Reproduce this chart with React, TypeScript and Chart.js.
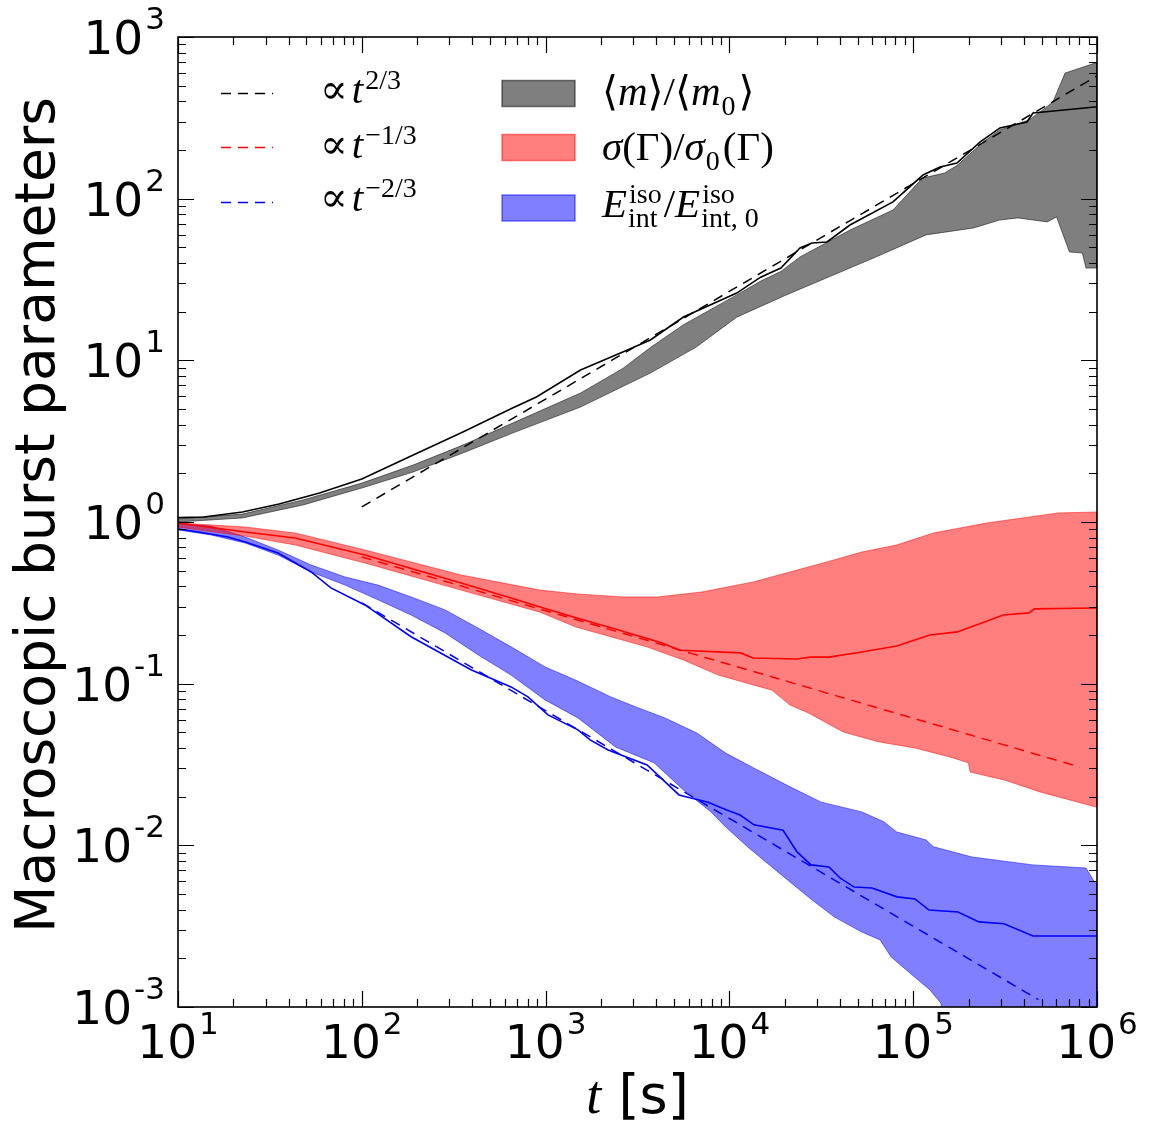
import React, { useEffect, useRef } from 'react';
import { Chart, registerables } from 'chart.js';

Chart.register(...registerables);

type Pt = [number, number];

// <m>/<m0>  (grey band + median)
const mUpper: Pt[] = [
  [10, 1.045], [22.4, 1.12], [47.9, 1.37], [100, 1.74], [190, 2.25], [355, 2.99], [661, 4.09],
  [1549, 6.28], [2630, 8.91], [3715, 12.0], [5623, 16.6], [10965, 25.4], [14791, 30.9],
  [19055, 35.5], [24210, 43.6], [45290, 64.0], [77620, 85.1], [112200, 134], [147900, 144],
  [173800, 161], [239900, 224], [295100, 266], [426600, 307], [489800, 344], [575400, 396],
  [669900, 598], [977200, 690], [1000000, 690],
];
const mLower: Pt[] = [
  [10, 1.0], [22.4, 1.059], [47.9, 1.274], [100, 1.622], [190, 2.037], [355, 2.673], [661, 3.548],
  [1549, 5.14], [3715, 8.34], [6607, 12.08], [10965, 18.5], [19953, 25.1], [33900, 32.4],
  [63100, 43.7], [117500, 59.7], [213800, 65.9], [295100, 73.8], [371500, 76.0], [537000, 71.8],
  [602600, 77.1], [707900, 46.8], [831800, 46.1], [871000, 37.2], [1000000, 37.2],
];
const mMedian: Pt[] = [
  [10, 1.064], [13.8, 1.074], [22.4, 1.153], [35.5, 1.291], [58.9, 1.51], [100, 1.845],
  [190.5, 2.594], [354.8, 3.606], [660.7, 5.07], [891, 5.93], [1549, 8.71], [2630, 11.25],
  [3715, 13.37], [5623, 18.54], [10965, 26.06], [14791, 32.7], [19055, 37.2], [24210, 49.5],
  [28120, 53.2], [33960, 54.0], [45290, 68.7], [77620, 95.5], [113000, 140], [140000, 157],
  [173000, 166], [230700, 224], [296500, 274], [415900, 298], [448700, 339], [975000, 369],
  [1000000, 370],
];

// sigma(Gamma)/sigma0(Gamma)  (red band + median)
const sUpper: Pt[] = [
  [10, 0.986], [23.2, 0.931], [43.4, 0.855], [104, 0.671], [347, 0.47], [933, 0.379],
  [1479, 0.359], [2630, 0.344], [4074, 0.344], [7079, 0.369], [13490, 0.426], [21380, 0.491],
  [33880, 0.566], [52480, 0.652], [81280, 0.721], [128800, 0.855], [251200, 0.986],
  [616600, 1.138], [1000000, 1.153],
];
const sLower: Pt[] = [
  [10, 0.931], [23.2, 0.818], [43.4, 0.721], [104, 0.557], [347, 0.379], [933, 0.277],
  [1462, 0.224], [2265, 0.195], [3548, 0.169], [5623, 0.14], [8710, 0.113], [13490, 0.0982],
  [16980, 0.0914], [21380, 0.0738], [26920, 0.0659], [41690, 0.0502], [64570, 0.0437],
  [102300, 0.04], [158500, 0.0352], [199500, 0.0324], [204200, 0.0284], [316200, 0.0253],
  [489800, 0.0214], [977000, 0.0173], [1000000, 0.0173],
];
const sMedian: Pt[] = [
  [10, 0.986], [23.2, 0.867], [43.4, 0.796], [104, 0.625], [347, 0.42], [649, 0.339],
  [933, 0.298], [1479, 0.255], [2291, 0.221], [4266, 0.179], [5370, 0.161], [11480, 0.155],
  [13490, 0.144], [23440, 0.142], [27540, 0.146], [34670, 0.146], [52480, 0.157],
  [81280, 0.171], [123000, 0.2], [173800, 0.209], [309000, 0.266], [426600, 0.274],
  [457100, 0.29], [977000, 0.294], [1000000, 0.294],
];

// E_int^iso / E_int,0^iso  (blue band + median)
const eUpper: Pt[] = [
  [10, 0.973], [15.1, 0.944], [23.2, 0.807], [35.0, 0.671], [53.0, 0.542], [81.1, 0.457],
  [122.5, 0.407], [185.4, 0.344], [283.8, 0.286], [428.5, 0.221], [648.6, 0.169], [993, 0.127],
  [1462, 0.105], [2265, 0.0828], [3097, 0.0718], [4457, 0.0614], [6653, 0.0495], [9550, 0.0372],
  [13490, 0.0302], [21380, 0.023], [31620, 0.0185], [52480, 0.0161], [69180, 0.014],
  [81280, 0.0121], [117500, 0.0108], [128800, 0.0098], [208900, 0.00847], [446700, 0.00757],
  [871000, 0.00724], [977000, 0.00585], [1000000, 0.00585],
];
const eLower: Pt[] = [
  [10, 0.893], [15.1, 0.832], [23.2, 0.741], [35.0, 0.625], [53.0, 0.491], [81.1, 0.407],
  [122.5, 0.33], [185.4, 0.266], [283.8, 0.206], [428.5, 0.151], [648.6, 0.113], [993, 0.0793],
  [1500, 0.0614], [2399, 0.0406], [3890, 0.0324], [5623, 0.022], [7943, 0.0161], [9550, 0.013],
  [12590, 0.00977], [18620, 0.00675], [28180, 0.00459], [37150, 0.00361], [52480, 0.00291],
  [66070, 0.0026], [75860, 0.00204], [95500, 0.00163], [123000, 0.00128], [141300, 0.00106],
  [158500, 0.0005], [1000000, 0.0005],
];
const eMedian: Pt[] = [
  [10, 0.906], [12.9, 0.867], [18.7, 0.807], [23.2, 0.752], [35.0, 0.643], [53.0, 0.491],
  [67.9, 0.391], [104, 0.307], [185.4, 0.195], [392.6, 0.122], [648.6, 0.0955], [801.8, 0.0828],
  [1030, 0.0641], [1500, 0.0518], [1746, 0.0449], [2188, 0.0389], [3565, 0.0314], [5321, 0.0205],
  [7656, 0.0185], [9594, 0.0166], [11430, 0.0154], [13610, 0.0134], [19590, 0.0124],
  [23330, 0.0091], [27800, 0.00757], [34830, 0.00735], [40000, 0.00628], [47640, 0.00552],
  [59700, 0.00545], [81660, 0.0048], [102300, 0.00466], [121900, 0.00398], [175400, 0.00387],
  [228000, 0.00336], [311900, 0.00327], [448700, 0.00275], [1000000, 0.00275],
];

// power-law guides (end points)
const guideP23: Pt[] = [[100, 1.24], [1000000, 575]];
const guideM13: Pt[] = [[100, 0.608], [807000, 0.0305]];
const guideM23: Pt[] = [[100, 0.316], [480000, 0.00111]];

const xTickExp = [1, 2, 3, 4, 5, 6];
const yTickExp = [-3, -2, -1, 0, 1, 2, 3];

const SANS = '"DejaVu Sans", sans-serif';
const SERIF = '"Liberation Serif", "DejaVu Serif", serif';
const DASH = [10, 7];
const MATH = 41;

const toXY = (p: Pt[]) => p.map(([x, y]) => ({ x, y }));
const shape = (up: Pt[], lo: Pt[]) => toXY([...up, ...lo.slice().reverse()]);

type Piece = { t?: string; it?: boolean; sup?: string; sub?: string; gap?: number };

function mathText(ctx: CanvasRenderingContext2D, x: number, y: number, size: number, pieces: Piece[]) {
  let cx = x;
  ctx.textAlign = 'left';
  ctx.textBaseline = 'alphabetic';
  for (const p of pieces) {
    if (p.t) {
      ctx.font = `${p.it ? 'italic ' : ''}${size}px ${SERIF}`;
      ctx.fillText(p.t, cx, y);
      cx += ctx.measureText(p.t).width;
    }
    if (p.sup || p.sub) {
      const s = Math.round(size * 0.68);
      ctx.font = `${s}px ${SERIF}`;
      let w = 0;
      if (p.sup) {
        ctx.fillText(p.sup, cx + 2, y - size * 0.33);
        w = Math.max(w, ctx.measureText(p.sup).width);
      }
      if (p.sub) {
        ctx.fillText(p.sub, cx + 1, y + size * 0.25);
        w = Math.max(w, ctx.measureText(p.sub).width);
      }
      cx += w + 4;
    }
    cx += p.gap ?? 0;
  }
}

const framePlugin = {
  id: 'frame',
  afterDraw(chart: any) {
    const { ctx, chartArea: a, scales } = chart;
    const xs = scales.x;
    const ys = scales.y;
    ctx.save();
    ctx.strokeStyle = '#000';
    ctx.fillStyle = '#000';

    // inward ticks on all four sides
    ctx.lineWidth = 1.2;
    ctx.beginPath();
    for (let e = 1; e <= 6; e++) {
      for (let m = 1; m <= 9; m++) {
        const v = m * Math.pow(10, e);
        if (v > xs.max * 1.0001) break;
        const px = Math.round(xs.getPixelForValue(v)) + 0.5;
        const len = m === 1 ? 16 : 8;
        ctx.moveTo(px, a.bottom); ctx.lineTo(px, a.bottom - len);
        ctx.moveTo(px, a.top); ctx.lineTo(px, a.top + len);
      }
    }
    for (let e = -3; e <= 3; e++) {
      for (let m = 1; m <= 9; m++) {
        const v = m * Math.pow(10, e);
        if (v > ys.max * 1.0001) break;
        const py = Math.round(ys.getPixelForValue(v)) + 0.5;
        const len = m === 1 ? 16 : 8;
        ctx.moveTo(a.left, py); ctx.lineTo(a.left + len, py);
        ctx.moveTo(a.right, py); ctx.lineTo(a.right - len, py);
      }
    }
    ctx.stroke();

    ctx.lineWidth = 1.6;
    ctx.strokeRect(a.left, a.top, a.right - a.left, a.bottom - a.top);

    // tick labels 10^k
    const big = 47;
    const small = 31;
    ctx.textBaseline = 'alphabetic';
    ctx.textAlign = 'left';
    for (const e of xTickExp) {
      const px = xs.getPixelForValue(Math.pow(10, e));
      ctx.font = `${big}px ${SANS}`;
      const w1 = ctx.measureText('10').width;
      ctx.font = `${small}px ${SANS}`;
      const sup = String(e);
      const w2 = ctx.measureText(sup).width;
      const x0 = px - (w1 + w2 + 2) / 2;
      ctx.font = `${big}px ${SANS}`;
      ctx.fillText('10', x0, a.bottom + 51);
      ctx.font = `${small}px ${SANS}`;
      ctx.fillText(sup, x0 + w1 + 2, a.bottom + 27);
    }
    for (const e of yTickExp) {
      const py = ys.getPixelForValue(Math.pow(10, e));
      ctx.font = `${small}px ${SANS}`;
      const sup = e < 0 ? '-' + String(-e) : String(e);
      const w2 = ctx.measureText(sup).width;
      ctx.font = `${big}px ${SANS}`;
      const w1 = ctx.measureText('10').width;
      const right = a.left - 13;
      ctx.fillText('10', right - w2 - 2 - w1, py + 17);
      ctx.font = `${small}px ${SANS}`;
      ctx.fillText(sup, right - w2, py - 8);
    }

    // axis titles
    ctx.save();
    ctx.font = `55px ${SANS}`;
    ctx.textAlign = 'center';
    ctx.translate(54, 515);
    ctx.rotate(-Math.PI / 2);
    ctx.fillText('Macroscopic burst parameters', 0, 0);
    ctx.restore();

    ctx.font = `italic 54px ${SERIF}`;
    const wt = ctx.measureText('t').width;
    ctx.font = `54px ${SANS}`;
    const ws = ctx.measureText(' [s]').width;
    const tx = (a.left + a.right) / 2 - (wt + ws) / 2;
    ctx.textAlign = 'left';
    ctx.font = `italic 54px ${SERIF}`;
    ctx.fillText('t', tx, 1113);
    ctx.font = `54px ${SANS}`;
    ctx.fillText(' [s]', tx + wt, 1113);

    // legend: guide lines
    const rows = [93, 147, 202];
    const rowText = [103, 158, 211];
    const guideCols = ['#000000', '#ff0000', '#0000ff'];
    const guideTex: Piece[][] = [
      [{ t: '\u221D', gap: 4 }, { t: 't', it: true, sup: '2/3' }],
      [{ t: '\u221D', gap: 4 }, { t: 't', it: true, sup: '\u22121/3' }],
      [{ t: '\u221D', gap: 4 }, { t: 't', it: true, sup: '\u22122/3' }],
    ];
    ctx.lineWidth = 1.5;
    ctx.setLineDash(DASH);
    rows.forEach((y, i) => {
      ctx.strokeStyle = guideCols[i];
      ctx.beginPath();
      ctx.moveTo(221, y + 0.5);
      ctx.lineTo(273, y + 0.5);
      ctx.stroke();
    });
    ctx.setLineDash([]);
    ctx.fillStyle = '#000';
    rows.forEach((_, i) => mathText(ctx, 320, rowText[i], MATH, guideTex[i]));

    // legend: bands
    const bandRows = [93.5, 147.5, 208];
    const bandText = [105, 160, 217];
    const faces = ['rgba(0,0,0,0.5)', 'rgba(255,0,0,0.5)', 'rgba(0,0,255,0.5)'];
    const bandTex: Piece[][] = [
      [{ t: '\u27E8' }, { t: 'm', it: true }, { t: '\u27E9/\u27E8' }, { t: 'm', it: true, sub: '0' }, { t: '\u27E9' }],
      [{ t: '\u03C3', it: true }, { t: '(\u0393)/' }, { t: '\u03C3', it: true, sub: '0' }, { t: '(\u0393)' }],
      [{ t: 'E', it: true, sup: 'iso', sub: 'int' }, { t: '/' }, { t: 'E', it: true, sup: 'iso', sub: 'int, 0' }],
    ];
    bandRows.forEach((y, i) => {
      ctx.fillStyle = faces[i];
      ctx.strokeStyle = faces[i];
      ctx.lineWidth = 1.5;
      ctx.fillRect(502, y - 13, 73, 26);
      ctx.strokeRect(502, y - 13, 73, 26);
      ctx.fillStyle = '#000';
      mathText(ctx, 602, bandText[i], MATH, bandTex[i]);
    });

    ctx.restore();
  },
};

export default function App() {
  const canvasRef = useRef<HTMLCanvasElement | null>(null);
  const chartRef = useRef<Chart | null>(null);

  useEffect(() => {
    const ctx = canvasRef.current?.getContext('2d');
    if (!ctx) return;
    try { chartRef.current?.destroy(); } catch {}

    const band = (up: Pt[], lo: Pt[], rgb: string) => ({
      data: shape(up, lo),
      fill: 'shape',
      backgroundColor: `rgba(${rgb},0.5)`,
      borderColor: `rgba(${rgb},0.5)`,
      borderWidth: 1,
      pointRadius: 0,
      tension: 0,
      order: 3,
      clip: 0,
    });
    const line = (p: Pt[], color: string, dashed = false) => ({
      data: toXY(p),
      fill: false,
      borderColor: color,
      borderWidth: dashed ? 1.5 : 1.6,
      borderDash: dashed ? DASH : [],
      pointRadius: 0,
      tension: 0,
      order: dashed ? 0 : 1,
      clip: 0,
    });

    chartRef.current = new Chart(ctx, {
      type: 'line',
      data: {
        datasets: [
          band(mUpper, mLower, '0,0,0'),
          band(sUpper, sLower, '255,0,0'),
          band(eUpper, eLower, '0,0,255'),
          line(mMedian, '#000000'),
          line(sMedian, '#ff0000'),
          line(eMedian, '#0000ff'),
          line(guideP23, '#000000', true),
          line(guideM13, '#ff0000', true),
          line(guideM23, '#0000ff', true),
        ] as any,
      },
      options: {
        animation: false,
        responsive: true,
        maintainAspectRatio: false,
        layout: { padding: { left: 178, right: 56, top: 37, bottom: 133 } },
        plugins: { legend: { display: false }, tooltip: { enabled: false } },
        scales: {
          x: { type: 'logarithmic', min: 10, max: 1e6, display: false },
          y: { type: 'logarithmic', min: 1e-3, max: 1e3, display: false },
        },
      },
      plugins: [framePlugin],
    } as any);

    return () => {
      try { chartRef.current?.destroy(); } catch {}
      chartRef.current = null;
    };
  }, []);

  return (
    <div style={{ position: 'fixed', left: 0, top: 0, width: 1153, height: 1140, background: '#fff' }}>
      <canvas ref={canvasRef} />
    </div>
  );
}
